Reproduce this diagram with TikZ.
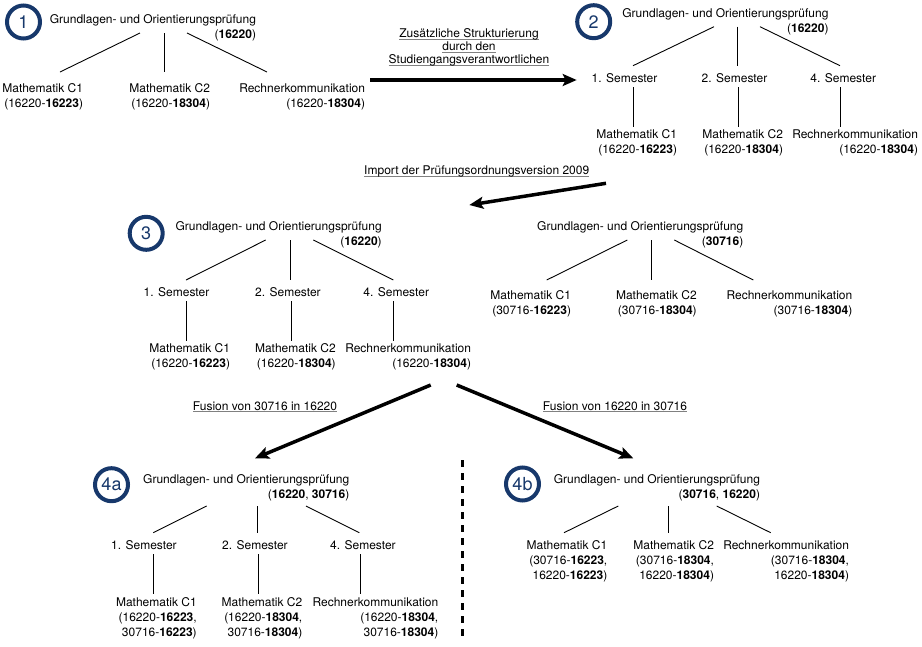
\documentclass[tikz,border=0pt]{standalone}
\usepackage{fontspec}
\setmainfont{TeX Gyre Heros}
\usepackage{xcolor}
\usepackage{tikz}
\usetikzlibrary{arrows.meta}

\definecolor{badgeblue}{HTML}{17386B}
\newcommand{\ulabel}[1]{\setbox0\hbox{#1}\rlap{\color{gray}\rule[-1.8pt]{\wd0}{0.8pt}}\box0}

\begin{document}
\begin{tikzpicture}[x=1pt,y=-1pt,
  every node/.style={font=\fontsize{12}{15}\selectfont},
  entry/.style={inner sep=0pt,outer sep=0pt,anchor=north east,align=right},
  badge/.style={circle,draw=badgeblue,line width=4pt,minimum size=33pt,inner sep=0pt,
    text=badgeblue,font=\fontsize{18}{18}\selectfont},
  branch/.style={line width=0.9pt},
  flow/.style={line width=3.5pt,-{Stealth[length=14pt,width=12pt,inset=3pt]}},
  note/.style={align=center,inner sep=0pt,font=\fontsize{12}{13}\selectfont}]
\useasboundingbox (0,0) rectangle (922,646);

% Tree 1
\node[badge] (b1) at (23.5,22) {1};
\node[entry] (g1) at (256,15) {Grundlagen- und Orientierungsprüfung\\(\textbf{16220})};
\node[entry] (g1m1) at (83,84) {Mathematik C1\\(16220-\textbf{16223})};
\node[entry] (g1m2) at (210,84) {Mathematik C2\\(16220-\textbf{18304})};
\node[entry] (g1rk) at (365,84) {Rechnerkommunikation\\(16220-\textbf{18304})};
\draw[branch] ([xshift=-116pt,yshift=-18pt]g1.north east) -- ([xshift=-23pt,yshift=12pt]g1m1.north east);
\draw[branch] ([xshift=-92pt,yshift=-18pt]g1.north east) -- ([xshift=-46pt,yshift=12pt]g1m2.north east);
\draw[branch] ([xshift=-69pt,yshift=-18pt]g1.north east) -- ([xshift=-98pt,yshift=12pt]g1rk.north east);

% Tree 2
\node[badge] (b2) at (593.7,21.7) {2};
\node[entry] (g2) at (828.5,8.3) {Grundlagen- und Orientierungsprüfung\\(\textbf{16220})};
\node[entry] (g2s1) at (657.3,74) {1. Semester};
\node[entry] (g2s2) at (767.3,74) {2. Semester};
\node[entry] (g2s4) at (876,74) {4. Semester};
\node[entry] (g2m1) at (677,130) {Mathematik C1\\(16220-\textbf{16223})};
\node[entry] (g2m2) at (783,130) {Mathematik C2\\(16220-\textbf{18304})};
\node[entry] (g2rk) at (918,130) {Rechnerkommunikation\\(16220-\textbf{18304})};
\draw[branch] ([xshift=-114.5pt,yshift=-18.4pt]g2.north east) -- ([xshift=-24.3pt,yshift=8.3pt]g2s1.north east);
\draw[branch] ([xshift=-91.2pt,yshift=-18.4pt]g2.north east) -- ([xshift=-30pt,yshift=8.3pt]g2s2.north east);
\draw[branch] ([xshift=-68.5pt,yshift=-18.4pt]g2.north east) -- ([xshift=-36pt,yshift=8.3pt]g2s4.north east);
\draw[branch] ([xshift=-24pt,yshift=-13.3pt]g2s1.north east) -- ([xshift=-43.7pt,yshift=3.3pt]g2m1.north east);
\draw[branch] ([xshift=-29pt,yshift=-13.3pt]g2s2.north east) -- ([xshift=-44.7pt,yshift=3.3pt]g2m2.north east);
\draw[branch] ([xshift=-36pt,yshift=-13.3pt]g2s4.north east) -- ([xshift=-78pt,yshift=3.3pt]g2rk.north east);

% Step 1 -> 2
\node[note] (t12) at (469,47.5) {\ulabel{Zusätzliche Strukturierung}\\\ulabel{durch den}\\\ulabel{Studiengangsverantwortlichen}};
\draw[flow] ([xshift=5pt,yshift=4pt]g1rk.north east) -- ([xshift=-80.6pt,yshift=-6pt]g2s1.north east);

% Tree 3
\node[badge] (b3) at (146.2,233.3) {3};
\node[entry] (g3) at (381.7,221.7) {Grundlagen- und Orientierungsprüfung\\(\textbf{16220})};
\node[entry] (g3s1) at (209.3,287.7) {1. Semester};
\node[entry] (g3s2) at (320.7,287.7) {2. Semester};
\node[entry] (g3s4) at (429,287.7) {4. Semester};
\node[entry] (g3m1) at (230,343.3) {Mathematik C1\\(16220-\textbf{16223})};
\node[entry] (g3m2) at (335.7,343.3) {Mathematik C2\\(16220-\textbf{18304})};
\node[entry] (g3rk) at (471,343.3) {Rechnerkommunikation\\(16220-\textbf{18304})};
\draw[branch] ([xshift=-116pt,yshift=-18.3pt]g3.north east) -- ([xshift=-23.3pt,yshift=7.7pt]g3s1.north east);
\draw[branch] ([xshift=-91pt,yshift=-18.3pt]g3.north east) -- ([xshift=-30pt,yshift=7.7pt]g3s2.north east);
\draw[branch] ([xshift=-68.4pt,yshift=-18.3pt]g3.north east) -- ([xshift=-35.7pt,yshift=7.7pt]g3s4.north east);
\draw[branch] ([xshift=-22.6pt,yshift=-13.3pt]g3s1.north east) -- ([xshift=-43.3pt,yshift=2.3pt]g3m1.north east);
\draw[branch] ([xshift=-29.4pt,yshift=-13.3pt]g3s2.north east) -- ([xshift=-44.4pt,yshift=2.3pt]g3m2.north east);
\draw[branch] ([xshift=-35.7pt,yshift=-13.3pt]g3s4.north east) -- ([xshift=-77.7pt,yshift=2.3pt]g3rk.north east);

% Imported version 30716
\node[entry] (g30) at (743.3,221.7) {Grundlagen- und Orientierungsprüfung\\(\textbf{30716})};
\node[entry] (g30m1) at (571,291) {Mathematik C1\\(30716-\textbf{16223})};
\node[entry] (g30m2) at (696.7,291) {Mathematik C2\\(30716-\textbf{18304})};
\node[entry] (g30rk) at (852.3,291) {Rechnerkommunikation\\(30716-\textbf{18304})};
\draw[branch] ([xshift=-116pt,yshift=-18.3pt]g30.north east) -- ([xshift=-24.3pt,yshift=11pt]g30m1.north east);
\draw[branch] ([xshift=-92pt,yshift=-18.3pt]g30.north east) -- ([xshift=-45.4pt,yshift=11pt]g30m2.north east);
\draw[branch] ([xshift=-69pt,yshift=-18.3pt]g30.north east) -- ([xshift=-99pt,yshift=11pt]g30rk.north east);

% Step 2 -> 3
\node[note] (t23) at (476.7,171.7) {\ulabel{Import der Prüfungsordnungsversion 2009}};
\draw[flow] ([xshift=-71pt,yshift=-53.3pt]g2m1.north east) -- ([xshift=87.6pt,yshift=16.7pt]g3.north east);

% Tree 4a
\node[badge] (b4a) at (111.5,484.7) {4a};
\node[entry] (g4a) at (349.3,475) {Grundlagen- und Orientierungsprüfung\\(\textbf{16220}, \textbf{30716})};
\node[entry] (g4as1) at (176.7,541) {1. Semester};
\node[entry] (g4as2) at (287.7,541) {2. Semester};
\node[entry] (g4as4) at (395.7,541) {4. Semester};
\node[entry] (g4am1) at (196.7,597.3) {Mathematik C1\\(16220-\textbf{16223},\\30716-\textbf{16223})};
\node[entry] (g4am2) at (302.3,597.3) {Mathematik C2\\(16220-\textbf{18304},\\30716-\textbf{18304})};
\node[entry] (g4ark) at (438.3,597.3) {Rechnerkommunikation\\(16220-\textbf{18304},\\30716-\textbf{18304})};
\draw[branch] ([xshift=-142.6pt,yshift=-31pt]g4a.north east) -- ([xshift=-23.4pt,yshift=8.3pt]g4as1.north east);
\draw[branch] ([xshift=-91.6pt,yshift=-31pt]g4a.north east) -- ([xshift=-30pt,yshift=8.3pt]g4as2.north east);
\draw[branch] ([xshift=-43.3pt,yshift=-31pt]g4a.north east) -- ([xshift=-36.4pt,yshift=8.3pt]g4as4.north east);
\draw[branch] ([xshift=-23.4pt,yshift=-13pt]g4as1.north east) -- ([xshift=-43.4pt,yshift=3.3pt]g4am1.north east);
\draw[branch] ([xshift=-29pt,yshift=-13pt]g4as2.north east) -- ([xshift=-43.6pt,yshift=3.3pt]g4am2.north east);
\draw[branch] ([xshift=-35pt,yshift=-13pt]g4as4.north east) -- ([xshift=-77.6pt,yshift=3.3pt]g4ark.north east);

% Tree 4b
\node[badge] (b4b) at (522.5,484) {4b};
\node[entry] (g4b) at (760,475) {Grundlagen- und Orientierungsprüfung\\(\textbf{30716}, \textbf{16220})};
\node[entry] (g4bm1) at (607.3,541) {Mathematik C1\\(30716-\textbf{16223},\\16220-\textbf{16223})};
\node[entry] (g4bm2) at (714,541) {Mathematik C2\\(30716-\textbf{18304},\\16220-\textbf{18304})};
\node[entry] (g4brk) at (849,541) {Rechnerkommunikation\\(30716-\textbf{18304},\\16220-\textbf{18304})};
\draw[branch] ([xshift=-141.7pt,yshift=-31pt]g4b.north east) -- ([xshift=-43.3pt,yshift=8.3pt]g4bm1.north east);
\draw[branch] ([xshift=-91.7pt,yshift=-31pt]g4b.north east) -- ([xshift=-45.7pt,yshift=8.3pt]g4bm2.north east);
\draw[branch] ([xshift=-43.3pt,yshift=-31pt]g4b.north east) -- ([xshift=-78.3pt,yshift=8.3pt]g4brk.north east);

% Step 3 -> 4a / 4b
\node[note] (t34a) at (265,406.7) {\ulabel{Fusion von 30716 in 16220}};
\node[note] (t34b) at (615,406.7) {\ulabel{Fusion von 16220 in 30716}};
\draw[flow] ([xshift=-40.3pt,yshift=-41.7pt]g3rk.north east) -- ([xshift=-94.3pt,yshift=16.7pt]g4a.north east);
\draw[flow] ([xshift=-14.3pt,yshift=-41.7pt]g3rk.north east) -- ([xshift=-126.7pt,yshift=16.7pt]g4b.north east);

% Separator
\draw[line width=3.5pt,dash pattern=on 7pt off 6pt] (462.5,460) -- (462.5,640);
\end{tikzpicture}
\end{document}
